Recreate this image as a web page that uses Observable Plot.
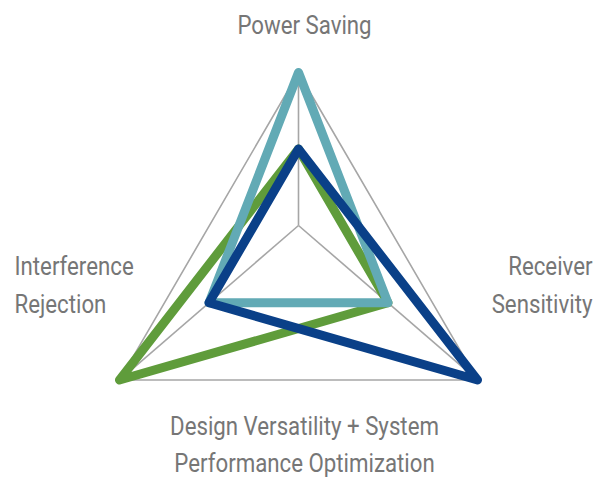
<!DOCTYPE html>
<html>
<head>
<meta charset="utf-8">
<script src="https://cdn.jsdelivr.net/npm/d3@7"></script>
<script src="https://cdn.jsdelivr.net/npm/@observablehq/plot@0.6"></script>
<style>
  html, body { margin: 0; padding: 0; background: #fff; }
  #chart svg { display: block; }
</style>
</head>
<body>
<div id="chart"></div>
<script>
// ---- data ----
const axes = ["Power Saving", "Receiver Sensitivity", "Interference Rejection"];
const seriesNames = ["Series 1", "Series 2", "Series 3"];
const series1 = [1, 1, 2];   // green
const series2 = [2, 1, 1];   // teal
const series3 = [1, 2, 1];   // dark blue
const gridLevels = [1, 2];
const maxValue = 2;
const extraLabel = "Design Versatility + System\nPerformance Optimization";
const axisLabels = ["Power Saving", "Receiver\nSensitivity", "Interference\nRejection"];

// ---- geometry (layout) ----
const dirs = [[0, 1], [1.17, -1.01], [-1.17, -1.01]];
const colors = ["#5f9c3b", "#62aab5", "#0a4088"];
const pos = (i, v) => [dirs[i][0] * v / maxValue, dirs[i][1] * v / maxValue];

const seriesValues = [series1, series2, series3];
const seriesRows = [];
seriesValues.forEach((vals, s) => {
  [0, 1, 2, 0].forEach((i, k) => {
    const [x, y] = pos(i, vals[i]);
    seriesRows.push({series: seriesNames[s], axis: axes[i], value: vals[i], x, y, k});
  });
});

const gridRows = [];
gridLevels.forEach(l => {
  [0, 1, 2, 0].forEach(i => {
    const [x, y] = pos(i, l);
    gridRows.push({level: l, x, y});
  });
});
const spokes = axes.map((a, i) => {
  const [x, y] = pos(i, maxValue);
  return {axis: a, x1: 0, y1: 0, x2: x, y2: y};
});

const W = 608, H = 477;
const unit = 153, cx = 298, cy = 225;
const xDomain = [(0 - cx) / unit, (W - cx) / unit];
const yDomain = [(cy - H) / unit, (cy - 0) / unit];

const vTop = pos(0, maxValue), vBR = pos(1, maxValue), vBL = pos(2, maxValue);
const labelRows = [
  {text: axisLabels[0], x: vTop[0], y: vTop[1], dx: 6, dy: -39, anchor: "middle", lh: 1.5},
  {text: axisLabels[1], x: vBR[0], y: vBR[1], dx: 115, dy: -67, anchor: "end", lh: 1.52},
  {text: axisLabels[2], x: vBL[0], y: vBL[1], dx: -105, dy: -67, anchor: "start", lh: 1.52},
  {text: extraLabel, x: 0, y: vBR[1], dx: 6, dy: 91.5, anchor: "middle", lh: 1.46}
];

const font = "Roboto, 'DejaVu Sans Condensed', sans-serif";

const chart = Plot.plot({
  width: W,
  height: H,
  margin: 0,
  x: {domain: xDomain, range: [0, W], axis: null},
  y: {domain: yDomain, range: [H, 0], axis: null},
  style: {fontFamily: font, background: "#fff"},
  marks: [
    Plot.line(gridRows, {x: "x", y: "y", z: "level", stroke: "#a6a6a6", strokeWidth: 1.6}),
    Plot.link(spokes, {x1: "x1", y1: "y1", x2: "x2", y2: "y2", stroke: "#a6a6a6", strokeWidth: 1.6}),
    ...seriesNames.map((name, s) =>
      Plot.line(seriesRows.filter(d => d.series === name), {
        x: "x", y: "y", stroke: colors[s], strokeWidth: 9,
        strokeLinejoin: "round", strokeLinecap: "round", curve: "linear"
      })
    ),
    ...labelRows.map(d =>
      Plot.text([d], {
        x: "x", y: "y", text: "text", dx: d.dx, dy: d.dy,
        textAnchor: d.anchor, lineAnchor: "bottom",
        fontSize: 25, fill: "#767676", lineHeight: d.lh
      })
    )
  ]
});
// condensed look: narrow the glyphs horizontally around each label's anchor
d3.select(chart).selectAll("text").each(function () {
  const t = this.getAttribute("transform") || "";
  this.setAttribute("transform", t + " scale(0.89,1)");
});
document.getElementById("chart").appendChild(chart);
</script>
</body>
</html>
